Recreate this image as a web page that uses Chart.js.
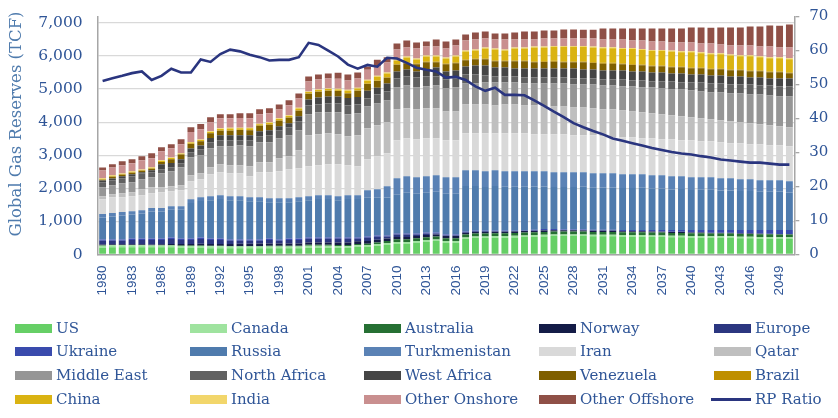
<!DOCTYPE html>
<html>
<head>
<meta charset="utf-8">
<script src="https://cdn.jsdelivr.net/npm/chart.js@4/dist/chart.umd.min.js"></script>
<style>
  html, body { margin: 0; padding: 0; background: #fff; }
  #wrap { position: relative; width: 838px; height: 418px; overflow: hidden; }
  #chart { position: absolute; left: 0; top: -8px; }
  #legend { position: absolute; left: 0; top: 0; width: 838px; height: 418px; color: #2f5597;
    font-family: "DejaVu Serif", serif; font-size: 15px; }
  .item { position: absolute; white-space: nowrap; line-height: 18px; height: 18px; padding-left: 41px; }
  .item i { position: absolute; left: 0; top: 5px; width: 37px; height: 9px; }
  .item i.line { left: -3px; top: 8px; width: 40px; height: 3px; }
  #ytitle { position: absolute; left: 15px; top: 123.5px; white-space: nowrap; color: #4f7bad;
    font-family: "DejaVu Serif", serif; font-size: 16.5px; transform: translate(-50%, -50%) rotate(-90deg); }
</style>
</head>
<body>
<div id="wrap">
  <canvas id="chart" width="838" height="426"></canvas>
  <div id="ytitle">Global Gas Reserves (TCF)</div>
  <div id="legend"></div>
</div>
<script>
const years = [];
for (let y = 1980; y <= 2050; y++) years.push(String(y));
const reserveTicks = [0, 1000, 2000, 3000, 4000, 5000, 6000, 7000];

const us = [206,216,216,216,216,216,216,216,196,196, 196,186,186,186,186,186,186,186,186,186, 186,206,206,206,196,196,226,226,256,286, 316,316,346,376,406,346,346,467,497,497, 507,507,517,527,537,547,557,558,558,558, 548,548,548,538,538,538,528,528,518,518, 508,508,498,498,498,488,488,478,478,468,468];
const canada = [60,60,60,60,60,55,55,55,60,60, 60,60,60,55,55,55,55,55,55,55, 55,60,60,60,60,55,55,60,60,60, 60,60,60,60,50,60,60,50,50,50, 50,50,50,50,50,50,50,50,50,50, 50,50,50,50,50,50,50,50,50,50, 50,50,50,50,50,50,50,50,50,50,50];
const australia = [10,10,10,10,10,10,10,15,15,15, 15,15,15,15,15,15,15,20,20,20, 20,30,30,30,30,35,40,40,50,60, 85,85,85,85,85,85,85,85,85,85, 85,85,85,85,85,85,85,85,85,85, 85,85,85,85,85,85,85,85,85,85, 85,85,85,85,85,85,85,85,85,85,85];
const norway = [25,25,25,25,25,25,30,30,45,50, 55,55,60,60,70,70,75,75,75,75, 75,70,70,70,75,75,80,80,80,80, 70,70,70,65,65,65,65,50,50,50, 45,45,45,45,40,40,40,40,40,35, 35,35,35,30,30,30,30,25,25,25, 25,20,20,20,15,15,15,15,10,10,10];
const europe = [111,101,101,131,131,136,131,156,126,121, 146,126,121,96,86,86,81,106,76,106, 106,111,111,111,116,116,76,101,91,56, 71,71,41,47,27,21,21,21,21,21, 16,16,11,8,11,16,11,8,8,9, 7,7,7,7,7,7,7,7,7,7, 7,7,7,7,7,7,7,7,7,7,7];
const ukraine = [45,45,45,45,45,45,45,45,45,45, 45,45,45,45,45,45,45,45,45,45, 45,40,40,40,40,40,40,40,40,35, 35,35,35,35,35,30,30,25,25,25, 25,25,20,15,25,30,25,18,18,22, 20,20,20,30,30,30,38,43,53,53, 63,68,78,78,83,93,93,103,108,118,118];
const russia = [664,694,724,724,749,810,810,835,865,1071, 1101,1156,1187,1186,1186,1156,1156,1096,1126,1096, 1126,1126,1157,1157,1126,1157,1157,1168,1138,1148, 1169,1230,1199,1199,1229,1229,1229,1369,1339,1309, 1339,1319,1319,1317,1309,1289,1269,1278,1278,1288, 1272,1282,1282,1267,1267,1277,1249,1259,1229,1239, 1208,1218,1218,1198,1198,1178,1178,1158,1158,1168,1138];
const turkmenistan = [100,100,100,100,105,105,105,110,110,115, 115,120,120,120,120,120,120,120,120,120, 120,120,120,120,120,120,120,230,260,340, 500,500,500,500,500,500,500,480,480,480, 480,470,470,470,460,460,450,450,450,440, 440,430,430,420,420,410,410,400,400,390, 390,380,380,370,370,360,360,350,350,340,340];
const iran = [452,482,452,452,453,452,482,452,483,543, 543,664,693,694,694,634,754,784,814,875, 875,905,904,934,965,904,874,934,995,995, 1146,1145,1146,1145,1115,1116,1116,1116,1116,1146, 1116,1146,1146,1146,1116,1116,1146,1146,1116,1116, 1146,1116,1085,1115,1115,1085,1115,1085,1115,1085, 1116,1086,1086,1086,1056,1086,1055,1085,1055,1055,1055];
const qatar = [91,91,121,121,181,181,151,151,150,181, 181,211,241,241,241,301,302,302,392,392, 542,935,935,935,905,875,935,935,934,935, 935,905,905,905,905,874,874,874,874,874, 844,874,874,844,874,844,844,844,844,844, 814,814,845,814,784,784,754,754,724,724, 694,693,663,663,663,633,634,603,603,573,573];
const middleEast = [271,271,302,302,301,301,422,452,543,543, 543,573,543,573,603,603,603,603,603,633, 603,633,663,633,663,663,663,663,663,663, 663,693,663,663,693,694,724,633,633,664, 694,664,664,663,663,693,693,693,693,693, 723,723,723,724,754,754,784,784,784,814, 814,814,814,844,844,874,874,905,905,905,935];
const northAfrica = [151,151,150,181,181,151,121,121,121,150, 181,181,181,181,151,181,181,211,241,241, 272,271,241,272,272,271,271,241,272,271, 271,272,302,302,272,271,271,272,272,211, 181,181,181,182,182,182,182,182,181,181, 181,181,181,211,181,211,181,211,241,211, 241,272,271,271,271,271,301,271,301,301,301];
const westAfrica = [50,50,60,60,30,60,151,131,121,111, 111,131,151,151,151,151,151,151,121,121, 151,181,211,211,211,221,221,231,201,241, 211,211,181,211,271,241,241,241,271,302, 271,271,241,271,271,271,271,271,302,271, 271,271,271,271,271,271,271,271,241,271, 241,241,241,241,241,241,211,241,211,241,241];
const venezuela = [25,55,45,45,45,45,65,111,141,141, 131,141,141,141,161,151,171,171,171,171, 171,171,171,171,161,141,191,206,206,176, 201,191,221,221,161,221,221,186,186,186, 186,186,216,216,186,196,206,186,186,216, 196,206,206,186,196,186,186,186,186,186, 186,186,186,186,186,186,186,186,186,186,156];
const brazil = [5,5,5,5,5,5,5,10,10,10, 10,10,10,10,10,10,10,10,10,10, 10,10,10,10,10,10,10,15,15,15, 20,20,20,20,20,20,20,25,25,25, 25,25,25,25,25,25,25,25,25,25, 25,25,25,25,25,25,25,25,25,25, 25,25,25,25,25,25,25,25,25,25,25];
const china = [25,25,18,25,18,25,30,25,18,30, 25,30,40,55,40,50,30,40,40,40, 55,40,40,40,40,71,55,81,111,111, 111,151,121,151,151,151,181,241,241,302, 332,302,362,362,422,412,422,442,442,442, 442,442,442,442,462,442,442,442,452,432, 462,432,432,432,422,402,432,402,402,402,402];
const india = [15,15,12,15,12,15,20,15,12,20, 15,20,20,25,20,20,20,20,20,20, 25,20,20,20,20,30,25,30,30,30, 30,30,30,30,30,30,30,30,30,30, 30,30,30,30,30,30,30,30,30,30, 30,30,30,30,30,30,30,30,30,30, 30,30,30,30,30,30,30,30,30,30,30];
const otherOnshore = [231,231,251,241,281,271,271,281,271,302, 312,271,302,281,291,281,281,271,271,302, 281,302,302,302,302,281,281,302,291,302, 302,271,302,271,271,271,302,302,302,271, 271,302,241,241,211,241,221,221,221,221, 241,231,231,251,221,251,251,251,241,261, 261,261,291,261,271,291,291,291,322,291,322];
const otherOffshore = [90,101,121,121,121,151,121,121,151,141, 161,151,121,121,141,151,151,151,151,151, 151,151,151,151,181,181,181,101,191,161, 181,211,181,151,211,211,181,181,211,211, 181,181,211,241,241,241,241,271,271,271, 271,332,332,332,362,362,392,392,422,422, 452,482,482,513,543,543,573,603,633,663,693];
const rpRatio = [51,51.8,52.5,53.3,53.8,51.3,52.5,54.6,53.5,53.5, 57.3,56.6,58.9,60.2,59.7,58.7,58,57,57.2,57.2, 58,62.2,61.6,59.9,58.2,55.8,54.6,55.7,55.2,57.8, 57.6,56.3,54.9,54.3,53.8,52,52.2,51.3,49.4,48.1, 49,46.9,46.9,46.8,45.3,43.7,42,40.4,38.6,37.4, 36.3,35.3,34.1,33.4,32.7,32,31.3,30.7,30.1,29.7, 29.4,28.9,28.5,27.9,27.6,27.3,27,27,26.7,26.4,26.4];

const stacks = [
  ['US', us, '#66cf66'], ['Canada', canada, '#9fe39f'], ['Australia', australia, '#267033'],
  ['Norway', norway, '#141c47'], ['Europe', europe, '#2b3680'], ['Ukraine', ukraine, '#3a4bad'],
  ['Russia', russia, '#4f7bad'], ['Turkmenistan', turkmenistan, '#5a82b5'], ['Iran', iran, '#d9d9d9'],
  ['Qatar', qatar, '#bfbfbf'], ['Middle East', middleEast, '#969696'], ['North Africa', northAfrica, '#616161'],
  ['West Africa', westAfrica, '#454545'], ['Venezuela', venezuela, '#7f5f00'], ['Brazil', brazil, '#bf8f00'],
  ['China', china, '#dab312'], ['India', india, '#f2d66b'], ['Other Onshore', otherOnshore, '#c98f8f'],
  ['Other Offshore', otherOffshore, '#8f5047']
];

const datasets = stacks.map(([label, data, color]) => ({
  type: 'bar', label, data, backgroundColor: color, yAxisID: 'y', order: 2,
  barPercentage: 0.7, categoryPercentage: 1
}));
datasets.push({
  type: 'line', label: 'RP Ratio', data: rpRatio, borderColor: '#2a357f', borderWidth: 2.6,
  pointRadius: 0, tension: 0, fill: false, yAxisID: 'y1', order: 1
});

const tickColor = '#2f5597';
const serif = '"DejaVu Serif", serif';

new Chart(document.getElementById('chart'), {
  data: { labels: years, datasets },
  options: {
    responsive: false,
    animation: false,
    layout: { padding: { top: 9.4, left: 0, right: 0, bottom: 0 } },
    plugins: { legend: { display: false }, tooltip: { enabled: false } },
    scales: {
      x: {
        stacked: true,
        grid: { display: false },
        border: { color: '#a6a6a6', width: 1.5 },
        afterFit: (s) => { s.height = 163.5; },
        ticks: {
          autoSkip: false, minRotation: 90, maxRotation: 90, padding: 3,
          color: tickColor, font: { family: '"Liberation Sans", sans-serif', size: 13.5 },
          callback: (v, i) => (i % 3 === 0 ? years[i] : '')
        }
      },
      y: {
        stacked: true, min: 0, max: 7200, position: 'left',
        afterFit: (s) => { s.width = 97.7; },
        // 7200 is not a multiple of the step, so the ticks are set by hand
        afterBuildTicks: (s) => { s.ticks = reserveTicks.map((value) => ({ value })); },
        grid: { color: '#d9d9d9', lineWidth: 1.3, drawTicks: false },
        border: { color: '#a6a6a6', width: 1.5 },
        ticks: { padding: 15, color: tickColor, font: { family: serif, size: 15.5 },
          callback: (v) => v.toLocaleString('en-US') }
      },
      y1: {
        min: 0, max: 70, position: 'right',
        afterFit: (s) => { s.width = 43.7; },
        grid: { drawOnChartArea: false, color: '#a6a6a6', tickLength: 5, lineWidth: 1.3 },
        border: { color: '#a6a6a6', width: 1.5 },
        ticks: { stepSize: 10, padding: 10, color: tickColor, font: { family: serif, size: 15 } }
      }
    }
  }
});

// the legend is a five column grid, Chart.js can't lay it out on fixed columns
const legendEl = document.getElementById('legend');
const legendX = [15, 190, 364, 539, 714];
const legendY = [319, 342, 366, 390];
datasets.forEach((d, i) => {
  const item = document.createElement('div');
  item.className = 'item';
  item.style.left = legendX[i % 5] + 'px';
  item.style.top = legendY[Math.floor(i / 5)] + 'px';
  const swatch = document.createElement('i');
  if (d.type === 'line') swatch.className = 'line';
  swatch.style.background = d.type === 'line' ? d.borderColor : d.backgroundColor;
  item.appendChild(swatch);
  item.appendChild(document.createTextNode(d.label));
  legendEl.appendChild(item);
});
</script>
</body>
</html>
